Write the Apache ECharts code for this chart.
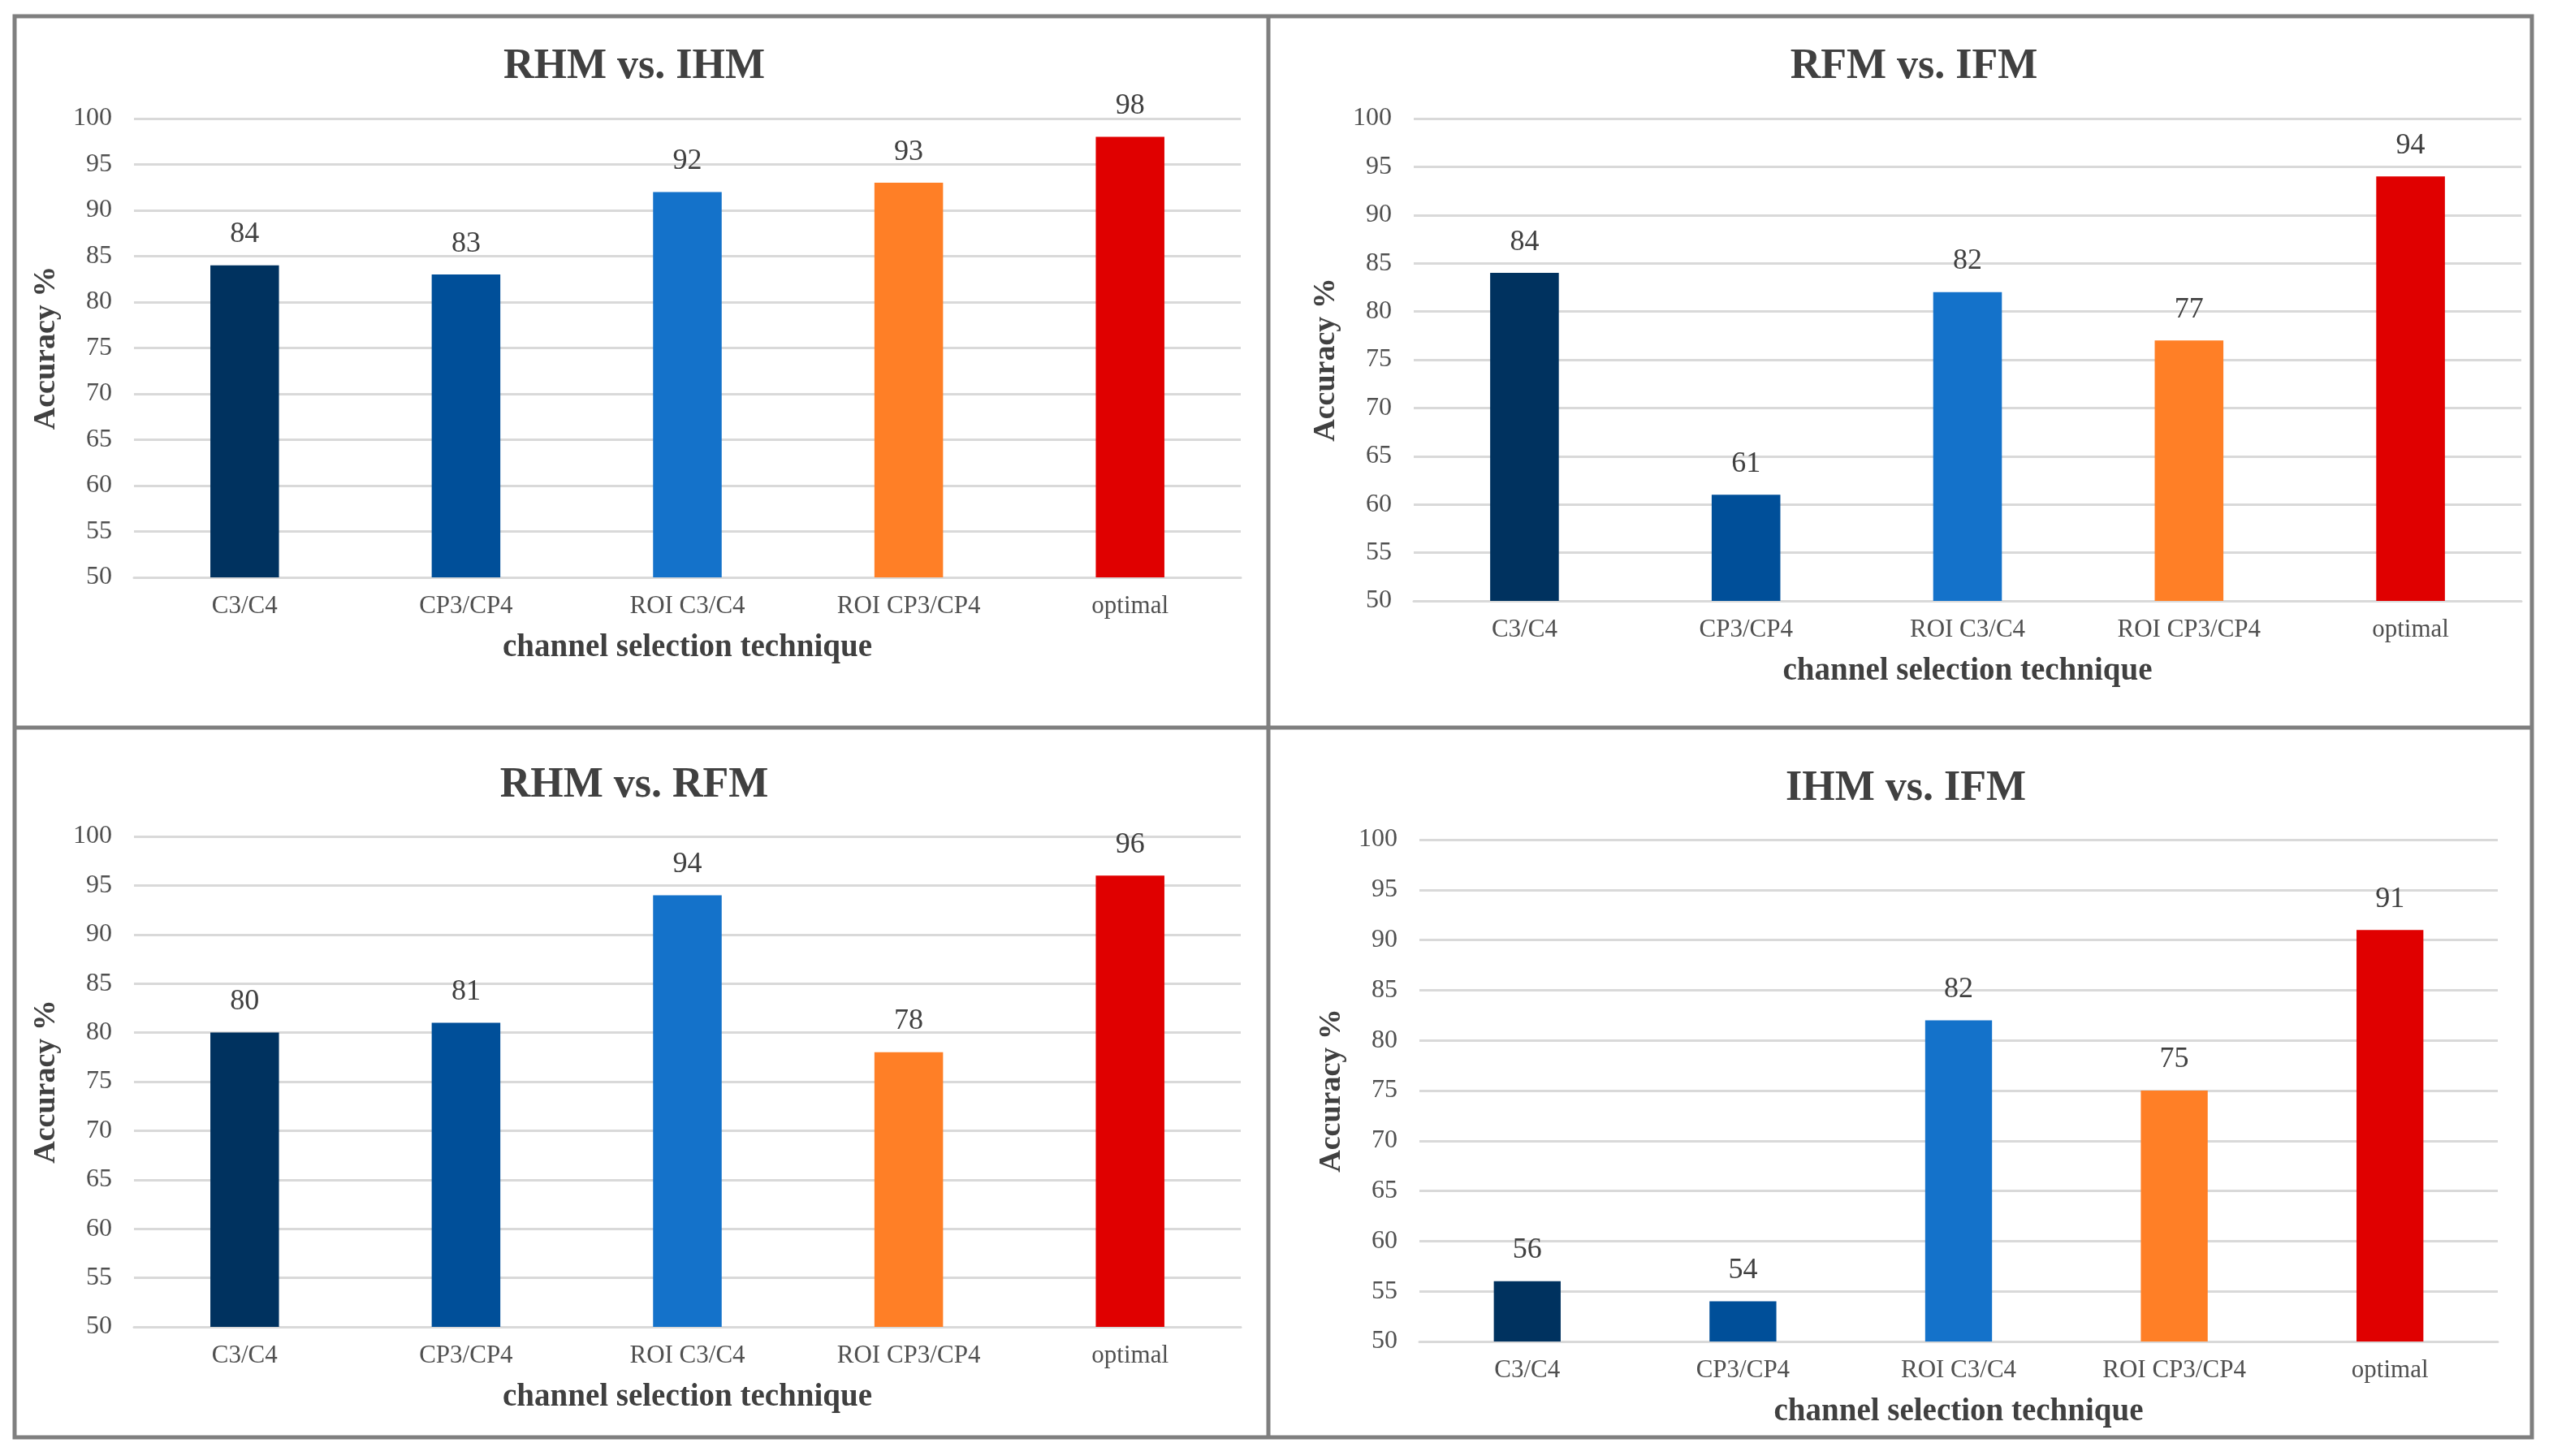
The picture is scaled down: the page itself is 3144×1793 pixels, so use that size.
<!DOCTYPE html>
<html>
<head>
<meta charset="utf-8">
<script src="https://cdn.jsdelivr.net/npm/echarts@6/dist/echarts.min.js"></script>
<style>
html,body{margin:0;padding:0;background:#fff;}
#chart{width:3144px;height:1793px;}
</style>
</head>
<body>
<div id="chart"></div>
<script>
const categories = ['C3/C4', 'CP3/CP4', 'ROI C3/C4', 'ROI CP3/CP4', 'optimal'];
const barColors = ['#00325f', '#004f99', '#1472ca', '#ff7f26', '#e00000'];
const panelTitles = ['RHM vs. IHM', 'RFM vs. IFM', 'RHM vs. RFM', 'IHM vs. IFM'];
const rhmVsIhm = [84, 83, 92, 93, 98];
const rfmVsIfm = [84, 61, 82, 77, 94];
const rhmVsRfm = [80, 81, 94, 78, 96];
const ihmVsIfm = [56, 54, 82, 75, 91];
const yTicks = { min: 50, max: 100, interval: 5 };
const xAxisTitle = 'channel selection technique';
const yAxisTitle = 'Accuracy %';

const panelValues = [rhmVsIhm, rfmVsIfm, rhmVsRfm, ihmVsIfm];

const FONT = '"Liberation Serif", "Times New Roman", serif';
const grids = [
  { left: 165, top: 146, width: 1363, height: 565 },
  { left: 1741, top: 146, width: 1364, height: 594 },
  { left: 165, top: 1030, width: 1363, height: 604 },
  { left: 1748, top: 1034, width: 1328, height: 618 }
];
const titlePos = [
  { x: 776, y: 52 },
  { x: 2352, y: 52 },
  { x: 776, y: 937 },
  { x: 2342, y: 941 }
];

const option = {
  backgroundColor: '#ffffff',
  animation: false,
  title: panelTitles.map((t, i) => ({
    text: t,
    left: titlePos[i].x,
    top: titlePos[i].y,
    textAlign: 'center',
    textStyle: { fontFamily: FONT, fontSize: 52, fontWeight: 'bold', color: '#404040' }
  })),
  grid: grids.map(g => Object.assign({ containLabel: false }, g)),
  xAxis: grids.map((g, i) => ({
    type: 'category',
    gridIndex: i,
    data: categories,
    axisLine: { show: true, lineStyle: { color: '#d9d9d9', width: 3 } },
    axisTick: { show: false },
    axisLabel: { fontFamily: FONT, fontSize: 31, color: '#505050', margin: 20 },
    name: xAxisTitle,
    nameLocation: 'middle',
    nameGap: 67,
    nameTextStyle: { fontFamily: FONT, fontSize: 39, fontWeight: 'bold', color: '#404040' }
  })),
  yAxis: grids.map((g, i) => ({
    type: 'value',
    gridIndex: i,
    min: yTicks.min,
    max: yTicks.max,
    interval: yTicks.interval,
    axisLine: { show: false },
    axisTick: { show: false },
    splitLine: { show: true, lineStyle: { color: '#d9d9d9', width: 3 } },
    axisLabel: { fontFamily: FONT, fontSize: 32, color: '#505050', margin: 27 },
    name: yAxisTitle,
    nameLocation: 'middle',
    nameGap: 89,
    nameRotate: 90,
    nameTextStyle: { fontFamily: FONT, fontSize: 38, fontWeight: 'bold', color: '#404040' }
  })),
  series: panelValues.map((vals, i) => ({
    type: 'bar',
    xAxisIndex: i,
    yAxisIndex: i,
    barWidth: '31%',
    data: vals.map((v, j) => ({ value: v, itemStyle: { color: barColors[j] } })),
    label: {
      show: true,
      position: 'top',
      distance: 20,
      fontFamily: FONT,
      fontSize: 36,
      color: '#404040'
    }
  })),
  graphic: [
    { type: 'rect', shape: { x: 18, y: 20, width: 3100, height: 1750 }, style: { fill: 'none', stroke: '#7f7f7f', lineWidth: 5 }, silent: true },
    { type: 'line', shape: { x1: 1562, y1: 20, x2: 1562, y2: 1770 }, style: { stroke: '#7f7f7f', lineWidth: 5 }, silent: true },
    { type: 'line', shape: { x1: 18, y1: 896, x2: 3118, y2: 896 }, style: { stroke: '#7f7f7f', lineWidth: 5 }, silent: true }
  ]
};

const chart = echarts.init(document.getElementById('chart'));
chart.setOption(option);
</script>
</body>
</html>
